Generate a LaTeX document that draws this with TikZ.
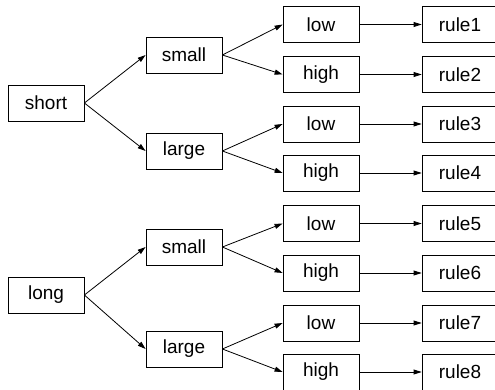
\documentclass[tikz,border=0pt]{standalone}
\usepackage{fontspec}
\setmainfont{Liberation Sans}
\usetikzlibrary{arrows.meta}
\begin{document}
\begin{tikzpicture}[x=1pt,y=-1pt,
  box/.style={draw,line width=0.8pt,minimum width=76pt,minimum height=36pt,inner sep=0pt,font=\fontsize{19}{22}\selectfont},
  arr/.style={-{Triangle[length=8pt,width=5pt]},line width=0.8pt}]
\useasboundingbox (0,0) rectangle (495,390);
\fill[white] (0,0) rectangle (495,390);
% level 1
\node[box] (short) at (46,103) {short};
\node[box] (long) at (46,295) {long};
% level 2
\node[box] (s1) at (184,55) {small};
\node[box] (l1) at (184,151) {large};
\node[box] (s2) at (184,247) {small};
\node[box] (l2) at (184,349) {large};
% level 3
\node[box] (a1) at (321,24.5) {low};
\node[box] (a2) at (321,74.5) {high};
\node[box] (a3) at (321,124) {low};
\node[box] (a4) at (321,173) {high};
\node[box] (a5) at (321,223.5) {low};
\node[box] (a6) at (321,273) {high};
\node[box] (a7) at (321,323) {low};
\node[box] (a8) at (321,372) {high};
% rules
\foreach \i/\y in {1/24.5,2/74.5,3/124,4/173,5/223.5,6/273,7/323,8/372}{
  \node[box] (r\i) at (460,\y) {rule\i};
  \draw[arr] (a\i.east) -- (r\i.west);
}
\draw[arr] (short.east) -- (s1.west);
\draw[arr] (short.east) -- (l1.west);
\draw[arr] (long.east) -- (s2.west);
\draw[arr] (long.east) -- (l2.west);
\draw[arr] (s1.east) -- (a1.west);
\draw[arr] (s1.east) -- (a2.west);
\draw[arr] (l1.east) -- (a3.west);
\draw[arr] (l1.east) -- (a4.west);
\draw[arr] (s2.east) -- (a5.west);
\draw[arr] (s2.east) -- (a6.west);
\draw[arr] (l2.east) -- (a7.west);
\draw[arr] (l2.east) -- (a8.west);
\end{tikzpicture}
\end{document}
